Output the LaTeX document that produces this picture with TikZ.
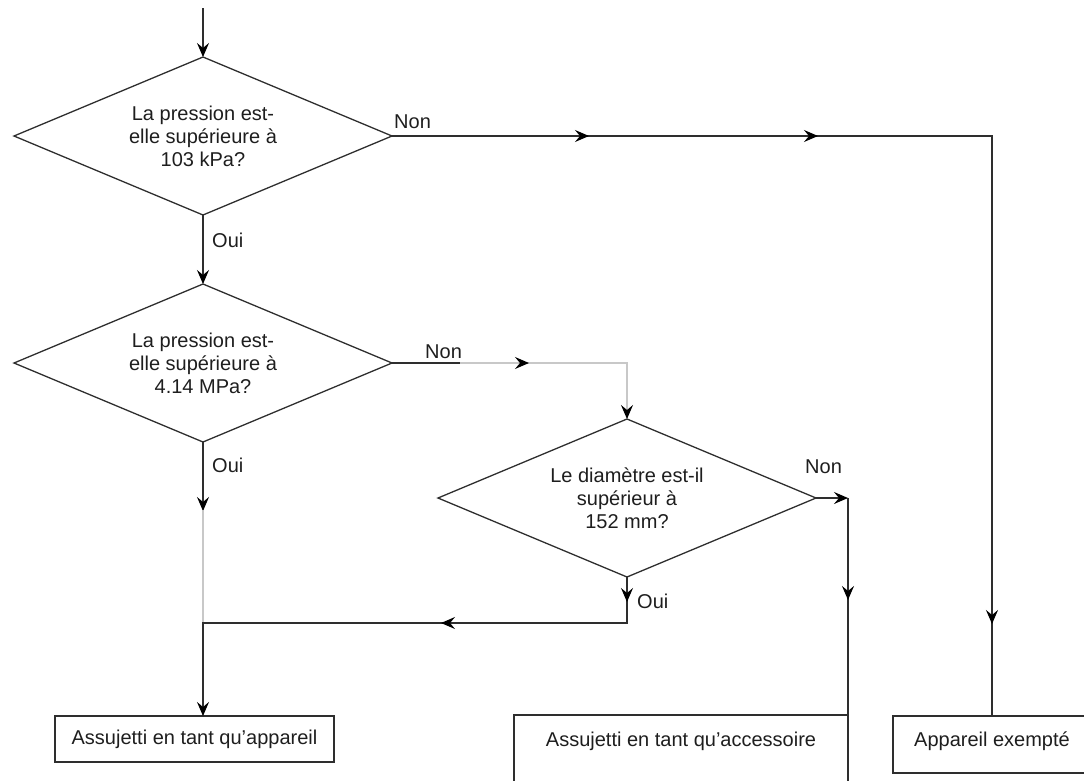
\documentclass[tikz,border=0pt]{standalone}
\usepackage{fontspec}
\setmainfont{Liberation Sans}
\usetikzlibrary{shapes.geometric,arrows.meta,decorations.markings}
\definecolor{linec}{HTML}{2E2E2E}
\definecolor{grayc}{HTML}{C8C8C8}
\definecolor{txtc}{HTML}{1E1E1E}
\tikzset{
  ftip/.tip={Stealth[length=14pt,width=12pt,inset=5pt,color=black]},
  ln/.style={draw=linec, line width=1.3pt},
  grayln/.style={draw=grayc, line width=1.3pt},
  dia/.style={ln, shape=diamond, aspect=2.4, inner sep=0pt, outer sep=0pt,
    minimum width=378pt, minimum height=158pt, align=center},
  boxnode/.style={ln, rectangle, inner sep=0pt, outer sep=0pt},
  lbl/.style={anchor=west, inner sep=0pt},
}
\begin{document}
\begin{tikzpicture}[x=1pt,y=-1pt,
  every node/.style={font=\fontsize{20}{23}\selectfont, text=txtc}]
\useasboundingbox (0,0) rectangle (1084,780);
\clip (0,0) rectangle (1084,780);

% decision nodes
\node[dia] (d1) at (203,136) {La pression est-\\elle supérieure à\\103 kPa?};
\node[dia] (d2) at (203,363) {La pression est-\\elle supérieure à\\4.14 MPa?};
\node[dia] (d3) at (627,498) {Le diamètre est-il\\supérieur à\\152 mm?};

% result boxes
\node[boxnode, minimum width=279pt, minimum height=46pt] (b1) at (194.5,739) {Assujetti en tant qu’appareil};
\node[boxnode, minimum width=334pt, minimum height=90pt, anchor=north west] (b2) at (514,715) {};
\node (b2t) at (681,741) {Assujetti en tant qu’accessoire};
\node[boxnode, minimum width=198pt, minimum height=57pt] (b3) at (992,744.5) {};
\node (b3t) at (992,741) {Appareil exempté};

% junction coordinates
\coordinate (s0) at (203,8);
\coordinate (k1) at (992,136);
\coordinate (k2) at (627,363);
\coordinate (g2) at (460,363);
\coordinate (g3) at (203,511);
\coordinate (j1) at (203,623);
\coordinate (k4) at (627,623);
\coordinate (k5) at (848,498);

% connectors
\draw[ln, -{ftip}] (s0) -- (d1.north);

\draw[ln, postaction={decorate}, decoration={markings,
   mark=at position 197pt with {\arrow{ftip}},
   mark=at position 426pt with {\arrow{ftip}},
   mark=at position 1088pt with {\arrow{ftip}}}]
  (d1.east) -- (k1) -- (b3.north);

\draw[ln, -{ftip}] (d1.south) -- (d2.north);

\draw[grayln, -{ftip}, postaction={decorate}, decoration={markings,
   mark=at position 137pt with {\arrow{ftip}}}]
  (d2.east) -- (k2) -- (d3.north);
\draw[ln] (d2.east) -- (g2);

\draw[ln, -{ftip}] (d2.south) -- (g3);
\draw[grayln] (g3) -- (j1);

\draw[ln, -{ftip}, postaction={decorate}, decoration={markings,
   mark=at position 25pt with {\arrow{ftip}},
   mark=at position 232pt with {\arrow{ftip}}}]
  (d3.south) -- (k4) -- (j1) -- (j1 |- b1.north);

\draw[ln, -{ftip}] (d3.east) -- (k5);
\draw[ln, postaction={decorate}, decoration={markings,
   mark=at position 102pt with {\arrow{ftip}}}]
  (k5) -- (b2.south east);

% labels
\node[lbl] (n1) at (394,122) {Non};
\node[lbl] (o1) at (212,240) {Oui};
\node[lbl] (n2) at (425,352) {Non};
\node[lbl] (o2) at (212,465) {Oui};
\node[lbl] (n3) at (805,467) {Non};
\node[lbl] (o3) at (637,601) {Oui};
\end{tikzpicture}
\end{document}
